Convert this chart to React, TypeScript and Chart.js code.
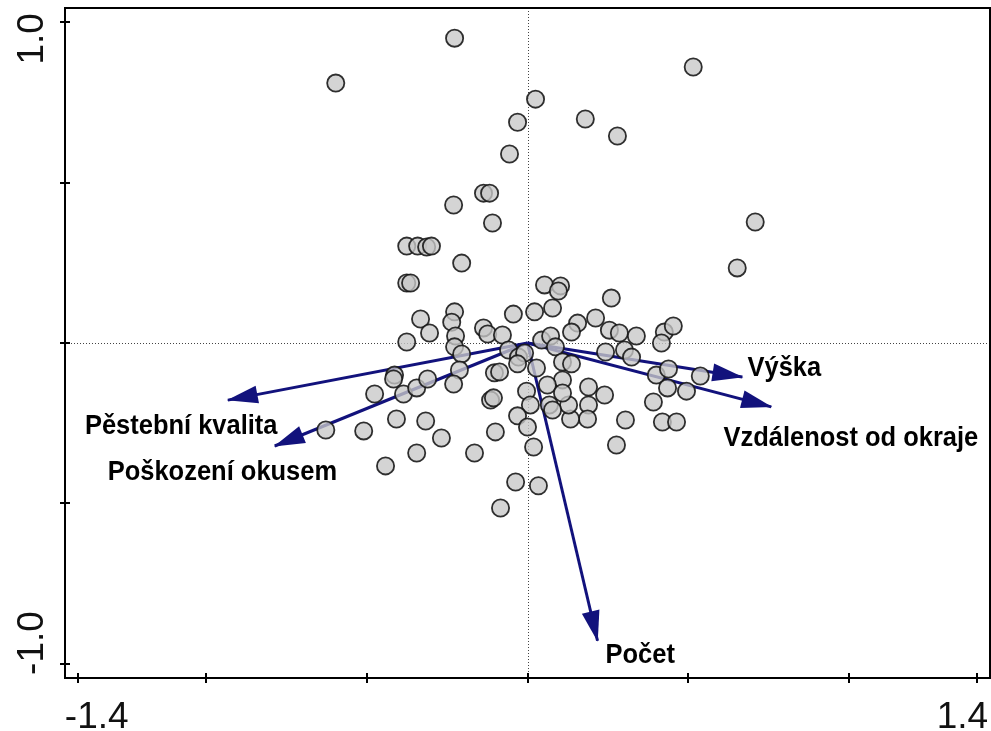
import React, { useEffect, useRef } from 'react';
import { Chart, registerables } from 'chart.js';

Chart.register(...registerables);

// Sample scores (axis 1, axis 2)
const sampleX = [
  -0.227, -0.597, 0.516, 0.025, -0.031, 0.180, 0.280, -0.056, -0.137, -0.118,
  -0.230, -0.109, 0.709, 0.653, -0.376, -0.342, -0.314, -0.299, -0.205, -0.376,
  -0.364, 0.053, 0.103, 0.096, 0.261, 0.078, 0.022, -0.044, -0.227, -0.236,
  -0.333, -0.305, -0.376, -0.224, -0.137, -0.124, -0.078, 0.212, 0.156, 0.137,
  0.255, 0.286, 0.339, 0.426, 0.454, 0.417, 0.044, 0.072, -0.227, -0.205,
  -0.212, -0.230, -0.414, -0.417, -0.476, -0.386, -0.345, -0.311, -0.059, -0.028,
  -0.009, -0.031, -0.103, -0.087, -0.115, -0.106, 0.028, 0.087, 0.109, 0.137,
  0.243, 0.302, 0.324, 0.401, 0.439, 0.538, 0.436, 0.495, 0.392, 0.420,
  0.464, 0.277, 0.305, 0.190, 0.240, 0.190, 0.187, 0.134, 0.128, 0.109,
  0.062, 0.109, 0.068, 0.078, -0.003, 0.009, -0.031, 0.000, -0.100, 0.019,
  -0.165, -0.037, 0.034, -0.084, -0.628, -0.510, -0.408, -0.317, -0.268, -0.345,
  -0.442,
];
const sampleY = [
  0.950, 0.810, 0.860, 0.760, 0.688, 0.698, 0.645, 0.589, 0.467, 0.467,
  0.430, 0.374, 0.377, 0.234, 0.302, 0.302, 0.299, 0.302, 0.249, 0.187,
  0.187, 0.181, 0.178, 0.162, 0.140, 0.109, 0.097, 0.090, 0.097, 0.065,
  0.075, 0.031, 0.003, 0.022, 0.047, 0.028, 0.025, 0.078, 0.062, 0.034,
  0.040, 0.031, 0.022, 0.034, 0.053, 0.000, 0.009, 0.022, -0.012, -0.034,
  -0.084, -0.128, -0.100, -0.112, -0.159, -0.159, -0.140, -0.112, -0.022, -0.044,
  -0.031, -0.065, -0.093, -0.090, -0.178, -0.171, -0.078, -0.012, -0.059, -0.065,
  -0.028, -0.022, -0.044, -0.100, -0.081, -0.103, -0.140, -0.150, -0.184, -0.246,
  -0.246, -0.318, -0.240, -0.137, -0.162, -0.193, -0.237, -0.237, -0.193, -0.115,
  -0.131, -0.156, -0.193, -0.209, -0.150, -0.193, -0.227, -0.262, -0.277, -0.324,
  -0.343, -0.433, -0.445, -0.514, -0.271, -0.274, -0.237, -0.243, -0.296, -0.343,
  -0.383,
];

// Environmental variables (arrows)
const vectorNames = ['Pěstební kvalita', 'Poškození okusem', 'Výška', 'Vzdálenost od okraje', 'Počet'];
const vectorX = [-0.933, -0.787, 0.669, 0.759, 0.218];
const vectorY = [-0.178, -0.321, -0.106, -0.199, -0.928];

// Label anchors (left end, text baseline) in axis units
const labelX = [-1.378, -1.307, 0.685, 0.610, 0.243];
const labelY = [-0.283, -0.427, -0.103, -0.321, -0.997];

// Axis ticks and labels
const xTicks = [-1.4, -1.0, -0.5, 0, 0.5, 1.0, 1.4];
const xTickLabels = ['-1.4', '', '', '', '', '', '1.4'];
const yTicks = [1.0, 0.5, 0, -0.5, -1.0];
const yTickLabels = ['1.0', '', '', '', '-1.0'];

const ARROW = '#12127c';

const biplotPlugin = {
  id: 'biplot',
  beforeDatasetsDraw(chart: any) {
    const { ctx, chartArea: a, scales } = chart;
    const x = scales.x;
    const y = scales.y;
    ctx.save();
    ctx.strokeStyle = '#444';
    ctx.lineWidth = 1;
    ctx.setLineDash([1, 2]);
    const x0 = Math.round(x.getPixelForValue(0)) + 0.5;
    const y0 = Math.round(y.getPixelForValue(0)) + 0.5;
    ctx.beginPath();
    ctx.moveTo(a.left, y0);
    ctx.lineTo(a.right, y0);
    ctx.moveTo(x0, a.top);
    ctx.lineTo(x0, a.bottom);
    ctx.stroke();
    ctx.restore();
  },
  afterDatasetsDraw(chart: any) {
    const { ctx, chartArea: a, scales } = chart;
    const x = scales.x;
    const y = scales.y;
    ctx.save();

    // arrowheads
    const ox = x.getPixelForValue(0);
    const oy = y.getPixelForValue(0);
    ctx.fillStyle = ARROW;
    for (let i = 0; i < vectorX.length; i++) {
      const tx = x.getPixelForValue(vectorX[i]);
      const ty = y.getPixelForValue(vectorY[i]);
      const dx = tx - ox;
      const dy = ty - oy;
      const len = Math.hypot(dx, dy);
      const ux = dx / len;
      const uy = dy / len;
      const L = 30;
      const W = 9;
      const bx = tx - ux * L;
      const by = ty - uy * L;
      ctx.beginPath();
      ctx.moveTo(tx + ux * 1, ty + uy * 1);
      ctx.lineTo(bx - uy * W, by + ux * W);
      ctx.lineTo(bx + uy * W, by - ux * W);
      ctx.closePath();
      ctx.fill();
    }

    // arrow labels
    ctx.fillStyle = '#000';
    ctx.font = 'bold 28px "Liberation Sans", Arial, sans-serif';
    ctx.textAlign = 'left';
    ctx.textBaseline = 'alphabetic';
    for (let i = 0; i < vectorNames.length; i++) {
      const px = x.getPixelForValue(labelX[i]);
      const py = y.getPixelForValue(labelY[i]);
      ctx.save();
      ctx.translate(px, py);
      ctx.scale(0.91, 1);
      ctx.fillText(vectorNames[i], 0, 0);
      ctx.restore();
    }

    // frame
    ctx.strokeStyle = '#000';
    ctx.lineWidth = 2;
    ctx.setLineDash([]);
    ctx.strokeRect(a.left, a.top, a.right - a.left, a.bottom - a.top);

    // tick marks
    ctx.beginPath();
    for (const v of xTicks) {
      const px = Math.round(x.getPixelForValue(v));
      ctx.moveTo(px, a.bottom - 5);
      ctx.lineTo(px, a.bottom + 5);
    }
    for (const v of yTicks) {
      const py = Math.round(y.getPixelForValue(v));
      ctx.moveTo(a.left - 5, py);
      ctx.lineTo(a.left + 5, py);
    }
    ctx.stroke();

    // tick labels
    ctx.fillStyle = '#111';
    ctx.font = '37px "Liberation Sans", Arial, sans-serif';
    ctx.textBaseline = 'alphabetic';
    xTicks.forEach((v, i) => {
      const t = xTickLabels[i];
      if (!t) return;
      const px = x.getPixelForValue(v);
      if (i === 0) {
        ctx.textAlign = 'left';
        ctx.fillText(t, px - 13, a.bottom + 50);
      } else {
        ctx.textAlign = 'right';
        ctx.fillText(t, px + 11, a.bottom + 50);
      }
    });
    yTicks.forEach((v, i) => {
      const t = yTickLabels[i];
      if (!t) return;
      const py = y.getPixelForValue(v);
      ctx.save();
      ctx.translate(a.left - 22, i === 0 ? py - 9 : py + 11);
      ctx.rotate(-Math.PI / 2);
      ctx.textAlign = i === 0 ? 'right' : 'left';
      ctx.fillText(t, 0, 0);
      ctx.restore();
    });

    ctx.restore();
  },
};

export default function App() {
  const canvasRef = useRef<HTMLCanvasElement | null>(null);

  useEffect(() => {
    const canvas = canvasRef.current;
    if (!canvas) return;
    const arrowSets = vectorNames.map((name, i) => ({
      label: name,
      data: [
        { x: 0, y: 0 },
        { x: vectorX[i], y: vectorY[i] },
      ],
      showLine: true,
      borderColor: ARROW,
      borderWidth: 3,
      pointRadius: 0,
      fill: false,
      order: 2,
    }));
    const chart = new Chart(canvas, {
      type: 'scatter',
      data: {
        datasets: [
          {
            label: 'samples',
            data: sampleX.map((v, i) => ({ x: v, y: sampleY[i] })),
            pointRadius: 8.6,
            pointBorderWidth: 1.8,
            pointBackgroundColor: 'rgba(200,200,200,0.78)',
            pointBorderColor: 'rgba(20,20,20,0.88)',
            order: 1,
          } as any,
          ...arrowSets,
        ],
      },
      options: {
        responsive: false,
        animation: false,
        events: [],
        layout: { autoPadding: false, padding: { left: 65, top: 8, right: 1, bottom: 53 } },
        plugins: { legend: { display: false }, tooltip: { enabled: false } },
        scales: {
          x: { type: 'linear', min: -1.44, max: 1.44, display: false },
          y: { type: 'linear', min: -1.044, max: 1.044, display: false },
        },
      },
      plugins: [biplotPlugin],
    } as any);
    return () => chart.destroy();
  }, []);

  return (
    <div style={{ position: 'absolute', left: 0, top: 0, width: 991, height: 731, background: '#fff' }}>
      <canvas ref={canvasRef} width={991} height={731} style={{ display: 'block' }} />
    </div>
  );
}
